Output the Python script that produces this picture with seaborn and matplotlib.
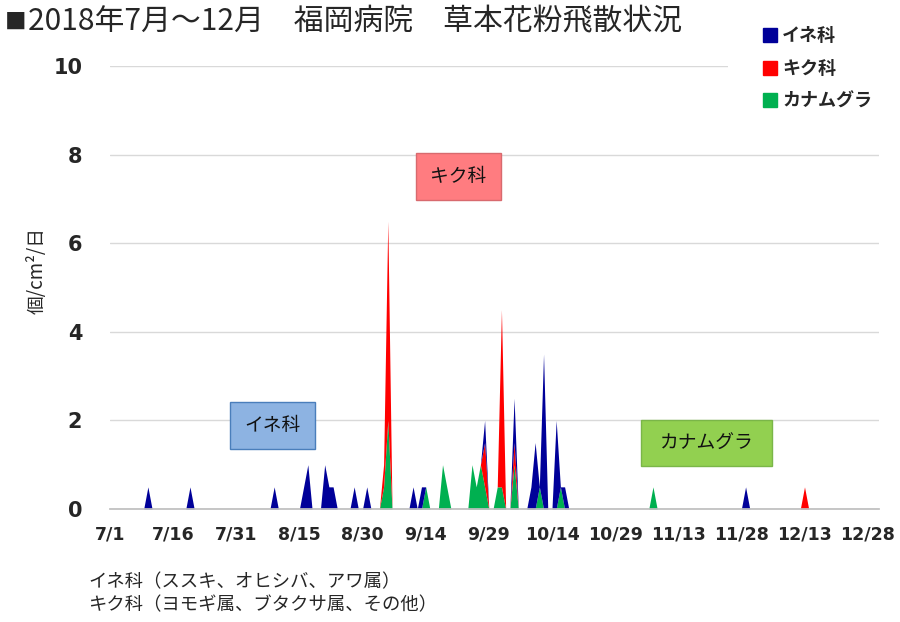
import numpy as np
import pandas as pd
import matplotlib
matplotlib.use("Agg")
import matplotlib.pyplot as plt
import seaborn as sns
from matplotlib.patches import Rectangle
from matplotlib.lines import Line2D

# 日別の花粉数（0以外の日だけ）
ine_days = ["7/10", "7/20", "8/9", "8/16", "8/17", "8/21", "8/22", "8/23", "8/28", "8/31",
            "9/11", "9/13", "9/28", "10/5", "10/9", "10/10", "10/12", "10/15", "10/17", "11/29"]
ine_vals = [0.5, 0.5, 0.5, 0.5, 1.0, 1.0, 0.5, 0.5, 0.5, 0.5,
            0.5, 0.5, 0.5, 1.0, 0.5, 1.5, 3.5, 2.0, 0.5, 0.5]

kiku_days = ["9/4", "9/5", "9/28", "10/2", "10/5", "12/13"]
kiku_vals = [0.5, 4.5, 1.0, 4.0, 0.5, 0.5]

kana_days = ["9/4", "9/5", "9/14", "9/18", "9/19", "9/25", "9/26", "9/27", "9/28",
             "10/1", "10/2", "10/5", "10/11", "10/16", "11/7"]
kana_vals = [0.5, 2.0, 0.5, 1.0, 0.5, 1.0, 0.5, 1.0, 0.5, 0.5, 0.5, 1.0, 0.5, 0.5, 0.5]

series_names = ["イネ科", "キク科", "カナムグラ"]
series_colors = ["#000099", "#FF0000", "#00B050"]

tick_labels = ["7/1", "7/16", "7/31", "8/15", "8/30", "9/14", "9/29",
               "10/14", "10/29", "11/13", "11/28", "12/13", "12/28"]

title = "2018年7月～12月　福岡病院　草本花粉飛散状況"
ylabel = "個/cm²/日"
notes = ["イネ科（ススキ、オヒシバ、アワ属）", "キク科（ヨモギ属、ブタクサ属、その他）"]

# 日別テーブルを作る
dates = pd.date_range("2018-07-01", "2018-12-31", freq="D")
df = pd.DataFrame(0.0, index=dates, columns=series_names)
for name, days, vals in [("イネ科", ine_days, ine_vals),
                         ("キク科", kiku_days, kiku_vals),
                         ("カナムグラ", kana_days, kana_vals)]:
    idx = pd.to_datetime(["2018/" + d for d in days])
    df.loc[idx, name] = vals
x = (df.index - dates[0]).days.values

sns.set_theme(style="white")
plt.rcParams['font.family'] = ['Noto Sans CJK JP', 'DejaVu Sans']

W, H = 900, 622
fig = plt.figure(figsize=(9, 6.22), dpi=100)
ax = fig.add_axes([110 / W, 1 - 509 / H, 769 / W, 443 / H])

# 下から カナムグラ, キク科, イネ科 の順に積み上げ
ax.stackplot(x, df["カナムグラ"], df["キク科"], df["イネ科"],
             colors=[series_colors[2], series_colors[1], series_colors[0]], linewidth=0)

ax.set_xlim(0.1, 182.7)
ax.set_ylim(0, 10)
ax.set_yticks([0, 2, 4, 6, 8, 10])
ax.set_yticklabels(["0", "2", "4", "6", "8", "10"], fontfamily="DejaVu Sans",
                   fontweight="bold", fontsize=15)
ax.set_xticks(np.arange(0, 181, 15))
ax.set_xticklabels(tick_labels, fontfamily="DejaVu Sans", fontweight="bold", fontsize=12.5)
ax.tick_params(axis="both", length=0)
ax.tick_params(axis="y", pad=20)
ax.tick_params(axis="x", pad=12)
ax.yaxis.grid(True, color="#D9D9D9", linewidth=1)
ax.set_axisbelow(True)
sns.despine(ax=ax, left=True, top=True, right=True)
ax.spines["bottom"].set_color("#BFBFBF")

# 凡例の白い背景（目盛線10を隠す）
fig.patches.append(Rectangle((728 / W, 1 - 115 / H), 160 / W, 100 / H,
                             transform=fig.transFigure, facecolor="white",
                             edgecolor="none", zorder=4))

# 注釈ボックス (pixel座標)
boxes = [("イネ科", 230, 402, 315, 449, "#8DB3E2", "#4A7EBB"),
         ("キク科", 416, 153, 501, 200, "#FF7C80", "#D86A6E"),
         ("カナムグラ", 641, 420, 772, 466, "#92D050", "#7AB648")]
for label, x0, y0, x1, y1, fc, ec in boxes:
    fig.patches.append(Rectangle((x0 / W, 1 - y1 / H), (x1 - x0) / W, (y1 - y0) / H,
                                 transform=fig.transFigure, facecolor=fc, edgecolor=ec,
                                 linewidth=1, zorder=5))
    fig.text((x0 + x1) / 2 / W, 1 - (y0 + y1) / 2 / H, label, ha="center", va="center",
             fontsize=13.5, color="#111111", zorder=6)

handles = [Line2D([], [], marker="s", linestyle="", markersize=10,
                  markerfacecolor=c, markeredgecolor=c) for c in series_colors]
leg = fig.legend(handles, series_names, loc="upper left", bbox_to_anchor=(748 / W, 1 - 12 / H),
                 frameon=False, fontsize=13, handlelength=0.8, handletextpad=0.3,
                 labelspacing=0.75, borderpad=0.3)
leg.set_zorder(6)
for t in leg.get_texts():
    t.set_fontweight("bold")

fig.text(5 / W, 1 - 23 / H, "■", ha="left", va="center", fontsize=15.5)
fig.text(28 / W, 1 - 22 / H, title, ha="left", va="center", fontsize=21.5)
fig.text(37 / W, 1 - 270 / H, ylabel, ha="center", va="center", rotation=90, fontsize=13.5)
fig.text(88 / W, 1 - 582 / H, notes[0], ha="left", va="center", fontsize=13.2)
fig.text(88 / W, 1 - 605 / H, notes[1], ha="left", va="center", fontsize=13.2)

fig.savefig("out.png", dpi=100)
